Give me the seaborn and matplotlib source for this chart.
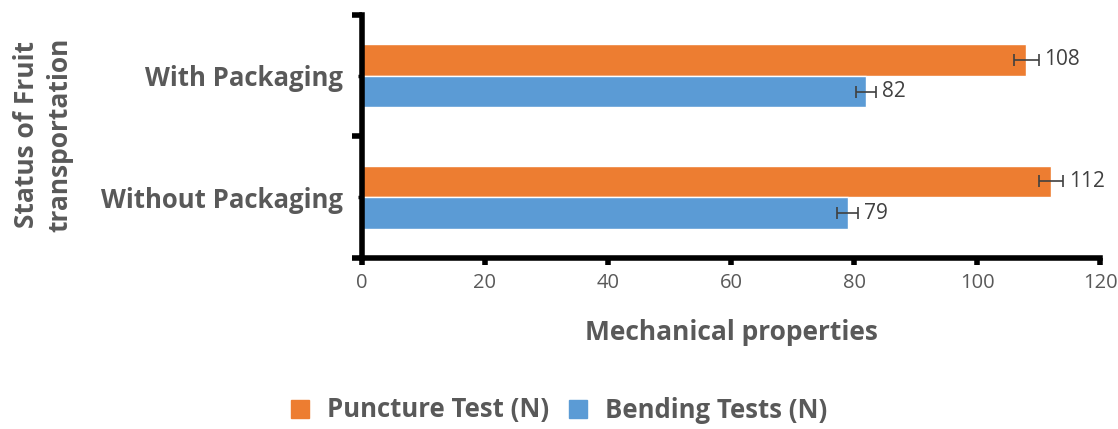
import numpy as np
import pandas as pd
import matplotlib
matplotlib.use("Agg")
import matplotlib.pyplot as plt
import seaborn as sns

# ========== DATOS ==========
categories = ["With Packaging", "Without Packaging"]
series = ["Puncture Test (N)", "Bending Tests (N)"]
puncture = [108, 112]
bending = [82, 79]
puncture_err = [2.0, 2.0]
bending_err = [1.6, 1.7]

df = pd.DataFrame({
    "status": categories * 2,
    "test": [series[0]] * 2 + [series[1]] * 2,
    "value": puncture + bending,
    "err": puncture_err + bending_err,
})

colors = ["#ED7D31", "#5B9BD5"]
grey = "#595959"

sns.set_style("white")
plt.rcParams["font.family"] = ["Open Sans", "DejaVu Sans"]
plt.rcParams["xtick.bottom"] = True
plt.rcParams["ytick.left"] = True

fig = plt.figure(figsize=(11.18, 4.29), dpi=100)
ax = fig.add_axes([362 / 1118, 1 - 258 / 429, (1100 - 362) / 1118, (258 - 15) / 429])

sns.barplot(data=df, y="status", x="value", hue="test", order=categories,
            hue_order=series, palette=colors, orient="h", width=0.52,
            errorbar=None, saturation=1, ax=ax, legend=True)

# barras de error y etiquetas de valores
for i, s in enumerate(series):
    sub = df[df["test"] == s].set_index("status").loc[categories]
    for p, (val, err) in zip(ax.containers[i], zip(sub["value"], sub["err"])):
        yc = p.get_y() + p.get_height() / 2
        ax.errorbar(val, yc, xerr=err, fmt="none", ecolor="#404040",
                    elinewidth=1.2, capsize=4, capthick=1.2)
        ax.text(val + err + 0.9, yc, f"{val}", va="center", ha="left",
                fontsize=15, color="#404040")

ax.set_xlim(0, 120)
ax.set_ylim(1.5, -0.5)
ax.set_xticks(np.arange(0, 121, 20))
ax.tick_params(axis="x", bottom=True, length=5, width=4, direction="out",
               color="black", labelsize=14.5, labelcolor=grey, pad=6)

ax.set_yticks([0, 1])
ax.set_yticklabels(categories, fontweight="bold")
ax.set_yticks([-0.5, 0.5, 1.5], minor=True)
ax.tick_params(axis="y", which="major", left=True, length=3, width=2.5,
               color="black", labelsize=18.5, labelcolor=grey, pad=11)
ax.tick_params(axis="y", which="minor", left=True, length=7, width=4,
               color="black")

for side in ["top", "right"]:
    ax.spines[side].set_visible(False)
for side in ["left", "bottom"]:
    ax.spines[side].set_linewidth(4)
    ax.spines[side].set_color("black")

ax.set_xlabel("Mechanical properties", fontsize=19, fontweight="bold",
              color=grey)
ax.xaxis.set_label_coords(0.5, (258 - 319) / 243, transform=ax.transAxes)
ax.set_ylabel("")
fig.text(43 / 1118, 1 - 135 / 429, "Status of Fruit\ntransportation",
         rotation=90, ha="center", va="center", multialignment="center",
         fontsize=19, fontweight="bold", color=grey, linespacing=1.3)

ax.legend_.remove()
handles = [plt.Rectangle((0, 0), 1, 1, color=c) for c in colors]
fig.legend(handles, series, loc="center", bbox_to_anchor=(0.5, 1 - 410 / 429),
           ncol=2, frameon=False, handlelength=0.7, handleheight=0.7,
           handletextpad=0.7, columnspacing=0.8,
           prop={"size": 18.5, "weight": "bold"}, labelcolor=grey)

fig.savefig("out.png", dpi=100)
